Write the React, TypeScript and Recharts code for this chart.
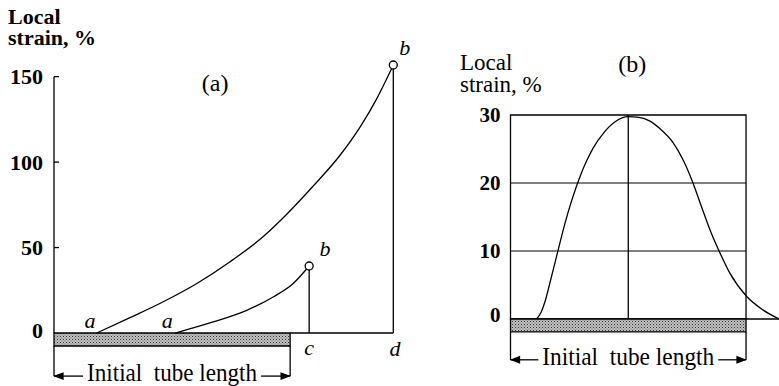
import React from 'react';
import {
  LineChart,
  Line,
  XAxis,
  YAxis,
  ReferenceLine,
  ReferenceArea,
  ReferenceDot,
} from 'recharts';

const FONT = '"Liberation Serif", "Times New Roman", serif';

// panel (a): position along tube (0..100 = start..d), local strain %
const longCurveX = [12.6, 22.4, 32.2, 42.1, 51.9, 61.7, 68.6, 76.4, 84.3, 90.2, 95.1, 100];
const longCurveY = [0, 9.0, 18.3, 29, 41.7, 56.5, 69.5, 86, 104, 120.5, 137, 156.8];
const shortCurveX = [35.7, 46.9, 56.8, 64.6, 70.5, 75.2];
const shortCurveY = [0, 6.5, 13.3, 21.1, 29, 39.2];
const tubeEndA = 69.6;
const ticksA = [0, 50, 100, 150];

// panel (b): position along tube (0..100 = initial tube), local strain %
const profileX = [11.1, 13.0, 14.6, 16.8, 18.9, 21.2, 23.4, 25.6, 27.8, 29.9, 32.4, 35.2, 39.4, 44.4, 50, 54.5, 59.2, 63.4, 69.1, 73.4, 77.6, 81.2, 85.4, 88.7, 93.2, 100.3, 107.3, 114];
const profileY = [0, 1.0, 2.5, 5.4, 8.3, 11.5, 14.4, 17.0, 19.3, 21.3, 23.3, 25.2, 27.3, 29.0, 29.75, 29.65, 29.1, 28.0, 25.9, 23.3, 19.9, 16.4, 12.5, 9.9, 6.7, 3.3, 1.3, 0];
const ticksB = [0, 10, 20, 30];
const gridB = [10, 20];

const longCurve = longCurveX.map((x, i) => ({ x, y: longCurveY[i] }));
const shortCurve = shortCurveX.map((x, i) => ({ x, y: shortCurveY[i] }));
const profile = profileX.map((x, i) => ({ x, y: profileY[i] }));
const longEnd = longCurve[longCurve.length - 1];
const shortEnd = shortCurve[shortCurve.length - 1];

const endDot = (n: number) => (p: any) =>
  p.index === n - 1 ? (
    <circle key={`e${p.index}`} cx={p.cx} cy={p.cy} r={4} fill="#fff" stroke="#000" strokeWidth={1.3} />
  ) : (
    <g key={`e${p.index}`} />
  );

const textMark = (t: string, italic = true, size = 22) => (p: any) => (
  <text
    x={p.cx}
    y={p.cy}
    textAnchor="middle"
    dominantBaseline="central"
    fontFamily={FONT}
    fontSize={size}
    fontStyle={italic ? 'italic' : 'normal'}
    fill="#000"
  >
    {t}
  </text>
);

const bracket = (textWidth: number) => (p: any) => {
  const { x, y, width, height } = p;
  const ay = y + height;
  const cx = x + width / 2;
  const half = textWidth / 2 + 4;
  const r = x + width;
  return (
    <g stroke="#000" strokeWidth={1.3}>
      <line x1={x} y1={y} x2={x} y2={ay} />
      <line x1={r} y1={y} x2={r} y2={ay} />
      <line x1={x} y1={ay} x2={cx - half} y2={ay} />
      <line x1={cx + half} y1={ay} x2={r} y2={ay} />
      <polygon points={`${x + 1},${ay} ${x + 9},${ay - 3} ${x + 9},${ay + 3}`} fill="#000" />
      <polygon points={`${r - 1},${ay} ${r - 9},${ay - 3} ${r - 9},${ay + 3}`} fill="#000" />
      <text
        x={cx}
        y={ay + 5}
        textAnchor="middle"
        stroke="none"
        fill="#000"
        fontFamily={FONT}
        fontSize={26}
        textLength={textWidth}
        lengthAdjust="spacingAndGlyphs"
        style={{ whiteSpace: 'pre' }}
      >
        {'Initial  tube length'}
      </text>
    </g>
  );
};

const tickA = (p: any) => (
  <g>
    <text x={p.x - 11} y={p.y - (p.payload.value === 0 ? 3 : 0)} textAnchor="end" dominantBaseline="central" fontFamily={FONT} fontSize={22} fontWeight="bold" fill="#000">
      {p.payload.value}
    </text>
    {p.payload.value !== 0 && <line x1={p.x} y1={p.y} x2={p.x + 5} y2={p.y} stroke="#000" strokeWidth={1.3} />}
  </g>
);

const tickB = (p: any) => (
  <text x={p.x - 10} y={p.y - (p.payload.value === 0 ? 4 : 0)} textAnchor="end" dominantBaseline="central" fontFamily={FONT} fontSize={21} fontWeight="bold" fill="#000">
    {p.payload.value}
  </text>
);

export default function App() {
  return (
    <div style={{ position: 'absolute', left: 0, top: 0, width: 779, height: 386, background: '#fff' }}>
      <svg width={0} height={0} style={{ position: 'absolute' }}>
        <defs>
          <pattern id="stip" width={3} height={3} patternUnits="userSpaceOnUse">
            <rect width={3} height={3} fill="#c0c0c0" />
            <rect width={1} height={1} fill="#333" />
            <rect x={1.5} y={1.5} width={1} height={1} fill="#666" />
          </pattern>
        </defs>
      </svg>

      {/* panel (a) */}
      <div style={{ position: 'absolute', left: 0, top: 0 }}>
        <LineChart width={420} height={386} margin={{ top: 51, right: 26.7, bottom: 1.7, left: 0 }}>
          <XAxis type="number" dataKey="x" domain={[0, 100]} hide />
          <YAxis
            type="number"
            domain={[-30, 165]}
            ticks={ticksA}
            width={54}
            axisLine={false}
            tickLine={false}
            tickSize={0}
            tickMargin={0}
            tick={tickA}
            interval={0}
          />
          <ReferenceLine segment={[{ x: 0, y: 150 }, { x: 0, y: 0 }]} stroke="#000" strokeWidth={1.3} />
          <ReferenceLine segment={[{ x: tubeEndA, y: 0 }, { x: 100, y: 0 }]} stroke="#000" strokeWidth={1.3} />
          <ReferenceLine segment={[{ x: shortEnd.x, y: 0 }, { x: shortEnd.x, y: shortEnd.y }]} stroke="#000" strokeWidth={1.3} />
          <ReferenceLine segment={[{ x: longEnd.x, y: 0 }, { x: longEnd.x, y: longEnd.y }]} stroke="#000" strokeWidth={1.3} />
          <ReferenceArea x1={0} x2={tubeEndA} y1={-25.2} y2={-7.6} shape={bracket(170)} ifOverflow="visible" />
          <ReferenceArea x1={0} x2={tubeEndA} y1={-7.6} y2={0} fill="url(#stip)" fillOpacity={1} stroke="#000" strokeWidth={1.3} />
          <Line data={longCurve} dataKey="y" type="monotone" stroke="#000" strokeWidth={1.3} dot={endDot(longCurve.length)} isAnimationActive={false} />
          <Line data={shortCurve} dataKey="y" type="monotone" stroke="#000" strokeWidth={1.3} dot={endDot(shortCurve.length)} isAnimationActive={false} />
          <ReferenceDot x={10.6} y={7.6} r={1} shape={textMark('a')} ifOverflow="visible" />
          <ReferenceDot x={33.4} y={7.6} r={1} shape={textMark('a')} ifOverflow="visible" />
          <ReferenceDot x={79.9} y={49.2} r={1} shape={textMark('b')} ifOverflow="visible" />
          <ReferenceDot x={103.4} y={166.8} r={1} shape={textMark('b')} ifOverflow="visible" />
          <ReferenceDot x={75.2} y={-8.2} r={1} shape={textMark('c')} ifOverflow="visible" />
          <ReferenceDot x={100.5} y={-8.8} r={1} shape={textMark('d')} ifOverflow="visible" />
          <ReferenceDot x={47.5} y={146.3} r={1} shape={textMark('(a)', false, 24)} ifOverflow="visible" />
        </LineChart>
      </div>

      {/* panel (b) */}
      <div style={{ position: 'absolute', left: 440, top: 0 }}>
        <LineChart width={339} height={386} margin={{ top: 115, right: 0, bottom: 5.8, left: 0 }}>
          <XAxis type="number" dataKey="x" domain={[0, 114]} hide />
          <YAxis
            type="number"
            domain={[-9, 30]}
            ticks={ticksB}
            width={70.5}
            axisLine={false}
            tickLine={false}
            tickSize={0}
            tickMargin={0}
            tick={tickB}
            interval={0}
          />
          <ReferenceArea x1={0} x2={100} y1={0} y2={30} fill="none" stroke="#000" strokeWidth={1.3} />
          {gridB.map((g) => (
            <ReferenceLine key={g} segment={[{ x: 0, y: g }, { x: 100, y: g }]} stroke="#000" strokeWidth={1.2} />
          ))}
          <ReferenceLine segment={[{ x: 50, y: 0 }, { x: 50, y: 30 }]} stroke="#000" strokeWidth={1.3} />
          <ReferenceLine segment={[{ x: 100, y: 0 }, { x: 114, y: 0 }]} stroke="#000" strokeWidth={1.3} />
          <ReferenceArea x1={0} x2={100} y1={-6} y2={-1.9} shape={bracket(172)} ifOverflow="visible" />
          <ReferenceArea x1={0} x2={100} y1={-1.9} y2={0} fill="url(#stip)" fillOpacity={1} stroke="#000" strokeWidth={1.3} />
          <Line data={profile} dataKey="y" type="monotone" stroke="#000" strokeWidth={1.3} dot={false} isAnimationActive={false} />
          <ReferenceDot x={51.7} y={37.5} r={1} shape={textMark('(b)', false, 24)} ifOverflow="visible" />
        </LineChart>
      </div>

      <svg width={779} height={386} style={{ position: 'absolute', left: 0, top: 0, pointerEvents: 'none' }}>
        <g fontFamily={FONT} fill="#000">
          <text x={8} y={24} fontSize={22} fontWeight="bold">Local</text>
          <text x={8} y={45} fontSize={22} fontWeight="bold">strain, %</text>
          <text x={460} y={70} fontSize={23}>Local</text>
          <text x={460} y={92} fontSize={23}>strain, %</text>
        </g>
      </svg>
    </div>
  );
}
